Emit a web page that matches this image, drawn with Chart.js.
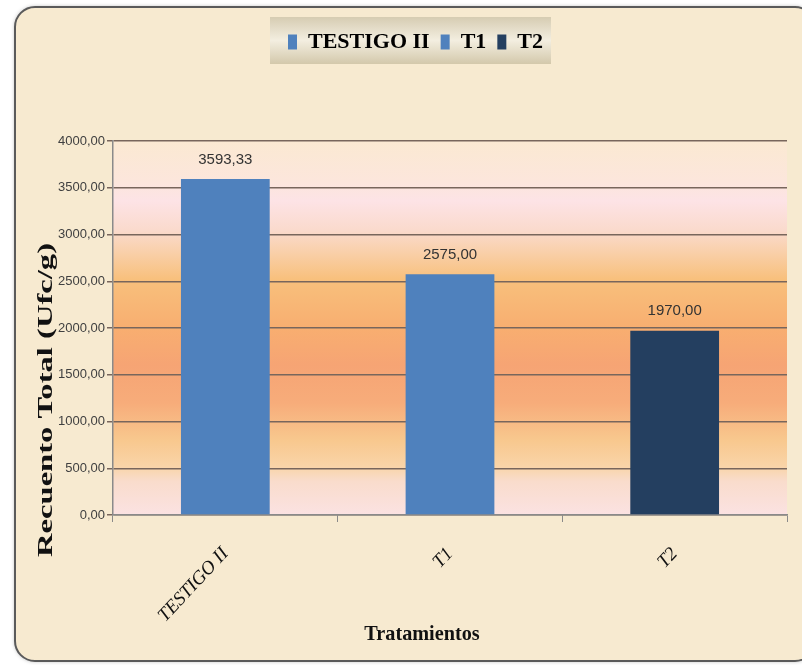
<!DOCTYPE html>
<html>
<head>
<meta charset="utf-8">
<script src="https://cdn.jsdelivr.net/npm/chart.js@4.4.1/dist/chart.umd.min.js"></script>
<style>
  html, body { margin: 0; padding: 0; background: #ffffff; }
  #wrap { position: relative; width: 802px; height: 665px; }
</style>
</head>
<body>
<div id="wrap"><canvas id="chart" width="802" height="665"></canvas></div>
<script>
// data
const categories = ['TESTIGO II', 'T1', 'T2'];
const recuento = [3593.33, 2575.00, 1970.00];
const barColors = ['#4f81bd', '#4f81bd', '#243f60'];
const yTicks = [0, 500, 1000, 1500, 2000, 2500, 3000, 3500, 4000];

const fmt = v => v.toFixed(2).replace('.', ',');
const serif = '"Liberation Serif", "Times New Roman", serif';

// stretch the legend's box so the plot starts lower down, and nudge it right
const legendSpace = {
    id: 'legendSpace',
    afterInit(chart) {
        const lg = chart.legend;
        if (!lg) return;
        const fit = lg.fit;
        lg.fit = function () {
            fit.call(this);
            this.height += 80;
        };
    },
    afterLayout(chart) {
        const lg = chart.legend;
        if (!lg) return;
        lg.left += 22;
        lg.right += 22;
        lg.top += 2;
        lg.bottom += 2;
    }
};

// frame, parchment background, plot gradient and legend box
const backdrop = {
    id: 'backdrop',
    beforeDraw(chart) {
        const ctx = chart.ctx;
        const area = chart.chartArea;
        ctx.save();
        ctx.shadowColor = 'rgba(0,0,0,0.35)';
        ctx.shadowBlur = 4;
        ctx.beginPath();
        ctx.roundRect(15, 7, 800, 654, 20);
        ctx.fillStyle = '#f7ead0';
        ctx.fill();
        ctx.shadowColor = 'transparent';
        ctx.lineWidth = 2;
        ctx.strokeStyle = '#5a5a5a';
        ctx.stroke();

        const g = ctx.createLinearGradient(0, area.top, 0, area.bottom);
        g.addColorStop(0.00, '#fbe9d2');
        g.addColorStop(0.11, '#fce6dc');
        g.addColorStop(0.16, '#fde3e6');
        g.addColorStop(0.24, '#fadacc');
        g.addColorStop(0.30, '#f9cfa8');
        g.addColorStop(0.37, '#f8c07c');
        g.addColorStop(0.50, '#f8ae70');
        g.addColorStop(0.60, '#f6a474');
        g.addColorStop(0.70, '#f7ac7a');
        g.addColorStop(0.80, '#f8c88e');
        g.addColorStop(0.87, '#f9d4a8');
        g.addColorStop(0.91, '#f9dccc');
        g.addColorStop(1.00, '#fbe2e2');
        ctx.fillStyle = g;
        ctx.fillRect(area.left, area.top, area.right - area.left, area.bottom - area.top);

        const boxes = chart.legend && chart.legend.legendHitBoxes;
        if (boxes && boxes.length) {
            const first = boxes[0], last = boxes[boxes.length - 1];
            const x = first.left - 18, w = last.left + last.width - first.left + 26;
            const y = 17, h = 47;
            const lgr = ctx.createLinearGradient(0, y, 0, y + h);
            lgr.addColorStop(0, '#d6ccb2');
            lgr.addColorStop(0.5, '#f3eee0');
            lgr.addColorStop(1, '#d3c8ab');
            ctx.fillStyle = lgr;
            ctx.fillRect(x, y, w, h);
        }
        ctx.restore();
    }
};

// value labels above bars and axis titles
const labels = {
    id: 'labels',
    afterDatasetsDraw(chart) {
        const ctx = chart.ctx;
        const meta = chart.getDatasetMeta(0);
        ctx.save();
        ctx.font = '15px "Liberation Sans", Arial, sans-serif';
        ctx.fillStyle = '#333333';
        ctx.textAlign = 'center';
        ctx.textBaseline = 'bottom';
        meta.data.forEach((bar, i) => {
            ctx.fillText(fmt(recuento[i]), bar.x, bar.y - 12);
        });

        ctx.fillStyle = '#111111';
        ctx.textBaseline = 'middle';
        ctx.save();
        ctx.translate(422, 634);
        ctx.scale(0.92, 1);
        ctx.font = 'bold 22px ' + serif;
        ctx.fillText('Tratamientos', 0, 0);
        ctx.restore();

        ctx.translate(46, 400);
        ctx.rotate(-Math.PI / 2);
        ctx.font = 'bold 22px ' + serif;
        const txt = 'Recuento Total (Ufc/g)';
        ctx.scale(314 / ctx.measureText(txt).width, 1);
        ctx.fillText(txt, 0, 0);
        ctx.restore();
    }
};

new Chart(document.getElementById('chart'), {
    type: 'bar',
    data: {
        labels: categories,
        datasets: [{
            data: recuento,
            backgroundColor: barColors,
            borderWidth: 0,
            categoryPercentage: 1,
            barPercentage: 0.395
        }]
    },
    options: {
        responsive: false,
        animation: false,
        layout: { padding: { left: 0, right: 15, top: 18, bottom: 0 } },
        scales: {
            x: {
                grid: { drawOnChartArea: false, drawTicks: true, tickLength: 7, color: '#8a8a8a', offset: true },
                border: { color: '#8a8a8a', width: 1.5 },
                ticks: {
                    color: '#111111',
                    font: { family: serif, style: 'italic', size: 19 },
                    minRotation: 47, maxRotation: 47, padding: 21
                },
                afterFit(scale) { scale.height = 150; }
            },
            y: {
                min: 0, max: 4000,
                afterBuildTicks(scale) { scale.ticks = yTicks.map(v => ({ value: v })); },
                grid: { color: '#78665c', lineWidth: 1.5, tickLength: 6 },
                border: { color: '#8a8a8a', width: 1.5 },
                ticks: {
                    color: '#404040',
                    font: { family: '"Liberation Sans", Arial, sans-serif', size: 13 },
                    padding: 2,
                    callback: v => fmt(v)
                },
                afterFit(scale) { scale.width = 113; }
            }
        },
        plugins: {
            legend: {
                position: 'top',
                labels: {
                    boxWidth: 9, boxHeight: 15, padding: 11,
                    color: '#111111',
                    font: { family: serif, size: 22, weight: 'bold' },
                    generateLabels: () => categories.map((c, i) => ({
                        text: c, fillStyle: barColors[i], strokeStyle: barColors[i], lineWidth: 0, index: i
                    }))
                }
            },
            tooltip: { enabled: false }
        }
    },
    plugins: [legendSpace, backdrop, labels]
});
</script>
</body>
</html>
